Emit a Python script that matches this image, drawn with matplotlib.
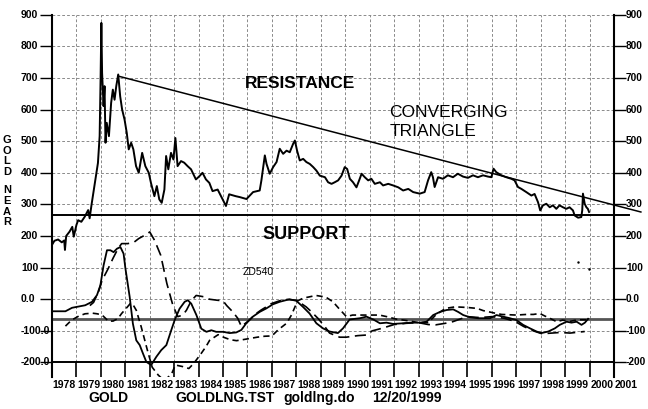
import numpy as np
import matplotlib
matplotlib.use('Agg')
import matplotlib.pyplot as plt
from matplotlib import transforms

plt.rcParams['font.family'] = ['Liberation Sans', 'DejaVu Sans']
plt.rcParams['lines.scale_dashes'] = False

# gold near price (year, $)
gold_t = [1978.00, 1978.10, 1978.25, 1978.40, 1978.50, 1978.53, 1978.58, 1978.72, 1978.83, 1978.89,
          1979.00, 1979.07, 1979.20, 1979.34, 1979.48, 1979.54, 1979.62, 1979.70, 1979.80, 1979.88,
          1979.95, 1979.99, 1980.02, 1980.05, 1980.11, 1980.15, 1980.19, 1980.24, 1980.33, 1980.42,
          1980.49, 1980.56, 1980.63, 1980.71, 1980.79, 1980.87, 1980.97, 1981.06, 1981.14, 1981.24,
          1981.33, 1981.44, 1981.55, 1981.69, 1981.82, 1981.96, 1982.05, 1982.19, 1982.29, 1982.39,
          1982.49, 1982.60, 1982.67, 1982.76, 1982.87, 1982.97, 1983.05, 1983.14, 1983.28, 1983.41,
          1983.55, 1983.69, 1983.89, 1984.03, 1984.16, 1984.30, 1984.44, 1984.57, 1984.78, 1984.98,
          1985.12, 1985.25, 1985.52, 1985.69, 1985.96, 1986.23, 1986.50, 1986.57, 1986.71, 1986.78,
          1986.91, 1987.05, 1987.19, 1987.32, 1987.46, 1987.60, 1987.73, 1987.87, 1987.94, 1988.03,
          1988.14, 1988.28, 1988.41, 1988.55, 1988.69, 1988.82, 1988.96, 1989.17, 1989.30, 1989.44,
          1989.57, 1989.71, 1989.85, 1989.98, 1990.08, 1990.19, 1990.32, 1990.46, 1990.57, 1990.67,
          1990.80, 1990.94, 1991.07, 1991.21, 1991.42, 1991.55, 1991.76, 1991.96, 1992.17, 1992.37,
          1992.58, 1992.78, 1993.05, 1993.25, 1993.39, 1993.52, 1993.59, 1993.66, 1993.80, 1994.00,
          1994.20, 1994.41, 1994.61, 1994.82, 1995.02, 1995.23, 1995.43, 1995.64, 1995.84, 1995.98,
          1996.07, 1996.18, 1996.39, 1996.59, 1996.80, 1996.93, 1997.07, 1997.21, 1997.41, 1997.62,
          1997.75, 1997.89, 1997.98, 1998.09, 1998.23, 1998.37, 1998.50, 1998.64, 1998.77, 1998.91,
          1999.05, 1999.18, 1999.32, 1999.39, 1999.53, 1999.66, 1999.70, 1999.73, 1999.80, 1999.87,
          1999.93, 1999.98]
gold_p = [172, 185, 189, 180, 186, 156, 200, 214, 229, 198,
          235, 250, 245, 261, 282, 256, 300, 340, 389, 431,
          516, 705, 874, 716, 611, 674, 495, 558, 516, 621,
          663, 631, 674, 711, 642, 600, 568, 526, 474, 495,
          474, 421, 400, 463, 421, 400, 368, 326, 358, 316,
          305, 347, 453, 411, 463, 442, 510, 421, 437, 432,
          421, 411, 379, 389, 400, 379, 368, 342, 347, 316,
          295, 332, 326, 323, 317, 339, 344, 376, 455, 428,
          397, 418, 434, 476, 460, 470, 465, 492, 502, 470,
          439, 444, 434, 428, 418, 407, 391, 386, 370, 365,
          370, 376, 391, 418, 412, 381, 370, 354, 376, 397,
          386, 376, 381, 365, 370, 360, 365, 360, 354, 344,
          349, 339, 334, 339, 376, 402, 386, 355, 386, 381,
          392, 386, 397, 388, 384, 392, 386, 392, 388, 386,
          413, 402, 392, 386, 381, 376, 355, 349, 339, 328,
          333, 307, 281, 297, 302, 291, 297, 286, 297, 291,
          286, 291, 281, 265, 258, 260, 281, 334, 302, 291,
          286, 276]

# solid oscillator
osc_t = [1978.00, 1978.55, 1978.82, 1979.36, 1979.64, 1979.84, 1979.98, 1980.11, 1980.25, 1980.39,
         1980.52, 1980.66, 1980.80, 1980.93, 1981.00, 1981.18, 1981.31, 1981.45, 1981.59, 1981.72,
         1981.86, 1982.06, 1982.27, 1982.47, 1982.68, 1982.88, 1983.02, 1983.22, 1983.43, 1983.56,
         1983.70, 1983.91, 1984.11, 1984.32, 1984.52, 1984.72, 1985.00, 1985.27, 1985.54, 1985.75,
         1985.95, 1986.22, 1986.50, 1986.77, 1987.04, 1987.32, 1987.72, 1988.00, 1988.27, 1988.54,
         1988.82, 1989.09, 1989.36, 1989.70, 1989.91, 1990.18, 1990.60, 1990.87, 1991.15, 1991.42,
         1991.69, 1991.96, 1992.37, 1992.65, 1993.05, 1993.33, 1993.60, 1993.88, 1994.15, 1994.42,
         1994.62, 1994.83, 1995.10, 1995.44, 1995.92, 1996.19, 1996.46, 1996.74, 1997.01, 1997.28,
         1997.56, 1997.83, 1998.03, 1998.31, 1998.58, 1998.78, 1999.06, 1999.26, 1999.47, 1999.67,
         1999.81, 1999.94]
osc_v = [-38, -38, -27, -19, -8, 13, 44, 107, 155, 155,
         149, 160, 165, 144, 100, 7, -77, -130, -145, -171,
         -198, -208, -182, -161, -145, -98, -66, -30, -8, -3,
         -14, -50, -93, -103, -98, -103, -103, -107, -105, -97,
         -76, -55, -40, -29, -16, -8, 0, -5, -24, -45,
         -76, -92, -102, -107, -92, -64, -60, -55, -64, -76,
         -74, -78, -76, -74, -74, -71, -50, -40, -34, -32,
         -40, -50, -57, -60, -60, -50, -55, -60, -66, -81,
         -92, -102, -107, -102, -92, -81, -71, -74, -71, -81,
         -74, -62]

# long dash line
slow_t = [1979.55, 1979.70, 1979.90, 1980.05, 1980.30, 1980.50, 1980.70, 1980.85, 1981.10, 1981.35,
          1981.55, 1981.90, 1982.00, 1982.20, 1982.45, 1982.70, 1982.95, 1983.15, 1983.35, 1983.50,
          1983.70, 1983.90, 1984.20, 1984.45, 1984.75, 1985.00, 1985.15, 1985.40, 1985.60, 1985.75,
          1986.00, 1986.36, 1986.56, 1986.77, 1986.97, 1987.50, 1988.00, 1988.40, 1988.54, 1988.88,
          1989.16, 1989.36, 1989.77, 1990.04, 1990.52, 1990.90, 1991.10, 1991.50, 1991.75, 1992.00,
          1992.50, 1993.00, 1993.40, 1993.70, 1994.10, 1994.40, 1994.80, 1995.00, 1995.50, 1996.00,
          1996.50, 1996.95, 1997.30, 1997.70, 1998.05, 1998.45, 1998.80, 1999.20, 1999.80]
slow_v = [-20, -10, 23, 60, 97, 130, 160, 176, 176, 180,
          192, 207, 213, 186, 139, 50, -20, -55, -50, -35,
          -5, 12, 8, 0, -3, -5, -20, -40, -60, -86,
          -71, -45, -34, -24, -14, 0, -3, -24, -34, -60,
          -86, -107, -120, -120, -115, -113, -100, -92, -86, -80,
          -76, -74, -80, -81, -76, -71, -60, -55, -58, -55,
          -60, -70, -86, -100, -109, -107, -105, -107, -102]

# short dash line
mid_t = [1978.55, 1978.80, 1979.10, 1979.35, 1979.65, 1979.85, 1980.05, 1980.20, 1980.30, 1980.50,
         1980.70, 1980.85, 1981.00, 1981.20, 1981.30, 1981.45, 1981.65, 1981.90, 1982.10, 1982.35,
         1982.60, 1982.90, 1983.05, 1983.35, 1983.60, 1983.80, 1984.10, 1984.30, 1984.45, 1984.80,
         1985.05, 1985.30, 1985.55, 1985.80, 1986.10, 1986.40, 1986.70, 1987.00, 1987.25, 1987.60,
         1987.80, 1988.05, 1988.30, 1988.50, 1988.80, 1989.20, 1989.50, 1989.75, 1990.05, 1990.30,
         1990.60, 1991.00, 1991.40, 1991.70, 1992.10, 1992.40, 1992.80, 1993.00, 1993.40, 1993.70,
         1994.10, 1994.50, 1995.00, 1995.40, 1995.65, 1996.19, 1996.40, 1997.00, 1997.42, 1997.70,
         1997.96, 1998.17, 1998.37, 1998.65, 1998.90, 1999.20, 1999.50, 1999.95]
mid_v = [-85, -66, -53, -46, -44, -46, -50, -61, -69, -69,
         -61, -45, -32, -14, -15, -35, -87, -160, -215, -240,
         -258, -235, -208, -213, -219, -203, -172, -150, -130, -112,
         -121, -128, -131, -128, -124, -120, -117, -116, -97, -76,
         -50, -5, 4, 7, 12, 7, -8, -30, -55, -50,
         -50, -50, -50, -55, -63, -66, -71, -74, -74, -50,
         -29, -24, -26, -29, -36, -45, -48, -50, -48, -48,
         -45, -53, -60, -71, -66, -70, -65, -65]

stray_t = [1999.52, 1999.97]
stray_v = [118, 96]

support = 266
osc_ref = -63
res_t = [1980.7, 2002.1]
res_v = [706, 276]

ytick_vals = [900, 800, 700, 600, 500, 400, 300, 200, 100, 0, -100, -200]
ytick_labs = ['900', '800', '700', '600', '500', '400', '300', '200', '100', '0.0', '-100.0', '-200.0']
ytick_labs_r = ['900', '800', '700', '600', '500', '400', '300', '200', '100', '0.0', '-100', '-200']
years = list(range(1978, 2002))

ybot = -245.9
fig = plt.figure(figsize=(6.48, 4.09), dpi=100)
ax = fig.add_axes([52/648, 1 - 377/409, 562/648, (377 - 14.7)/409])
ax.set_xlim(1978, 2001)
ax.set_ylim(ybot, 900)

# grid
gridc = '#8a8a8a'
for v in range(-100, 901, 100):
    ax.axhline(v, color=gridc, lw=0.7, ls=(0, (2, 1.5)), zorder=0)
ax.vlines(range(1979, 2001), -200, 900, color=gridc, lw=0.7, ls=(0, (2, 1.5)), zorder=0)

for s in ['top', 'bottom']:
    ax.spines[s].set_visible(False)
for s in ['left', 'right']:
    ax.spines[s].set_linewidth(1.5)
ax.set_xticks([])
ax.set_yticks(ytick_vals)
ax.tick_params(axis='y', which='both', left=True, right=True, labelleft=False, labelright=False,
               length=8.6, width=1.0, direction='out')

tr = transforms.blended_transform_factory(ax.transAxes, ax.transData)
for v, lab, labr in zip(ytick_vals, ytick_labs, ytick_labs_r):
    ax.text(-0.0552, v, lab, transform=tr, ha='left', va='center', fontsize=7.5, fontweight='bold')
    ax.text(1.0215, v, labr, transform=tr, ha='left', va='center', fontsize=7.3, fontweight='bold',
            clip_on=False)

# x axis at -200 with year ticks below
ax.axhline(-200, color='black', lw=1.4, zorder=2)
ax.vlines(range(1979, 2001), ybot, -200, color='black', lw=1.2)
for y in years:
    ax.text(y + 0.5, -271, str(y), ha='center', va='center', fontsize=7.5, fontweight='bold',
            clip_on=False)

# price and trend lines
ax.plot(gold_t, gold_p, color='black', lw=1.4, zorder=3)
ax.plot([1978, 2001.6], [support, support], color='black', lw=1.4, clip_on=False, zorder=3)
ax.plot(res_t, res_v, color='black', lw=1.1, clip_on=False, zorder=3)

# oscillators
ax.axhline(osc_ref, color='#555555', lw=2.0, zorder=2)
ax.plot(osc_t, osc_v, color='black', lw=1.3, zorder=4)
ax.plot(slow_t, slow_v, color='black', lw=1.2, dashes=(8, 4), zorder=4)
ax.plot(mid_t, mid_v, color='black', lw=1.2, dashes=(4.5, 3), zorder=4)
ax.plot(stray_t, stray_v, 'k.', ms=1.5)

# annotations
ax.text(1985.9, 681, 'RESISTANCE', fontsize=12.5, fontweight='bold', va='center', ha='left')
ax.text(1991.8, 592, 'CONVERGING', fontsize=12.5, va='center', ha='left')
ax.text(1991.8, 529, 'TRIANGLE', fontsize=12.5, va='center', ha='left')
ax.text(1986.6, 206, 'SUPPORT', fontsize=13, fontweight='bold', va='center', ha='left')
ax.text(1985.8, 86, 'ZD540', fontsize=7.5, va='center', ha='left')

for ch, py in zip('GOLDNEAR', [140, 151, 161, 172, 190, 201, 212, 222]):
    fig.text(7/648, 1 - py/409, ch, fontsize=8, fontweight='bold', ha='center', va='center')

fig.text(88/648, 1 - 398/409, 'GOLD', fontsize=10, fontweight='bold', va='center', ha='left')
fig.text(175/648, 1 - 398/409, 'GOLDLNG.TST', fontsize=10, fontweight='bold', va='center', ha='left')
fig.text(283/648, 1 - 398/409, 'goldlng.do', fontsize=10, fontweight='bold', va='center', ha='left')
fig.text(372/648, 1 - 398/409, '12/20/1999', fontsize=10, fontweight='bold', va='center', ha='left')

fig.savefig('out.png', dpi=100)
